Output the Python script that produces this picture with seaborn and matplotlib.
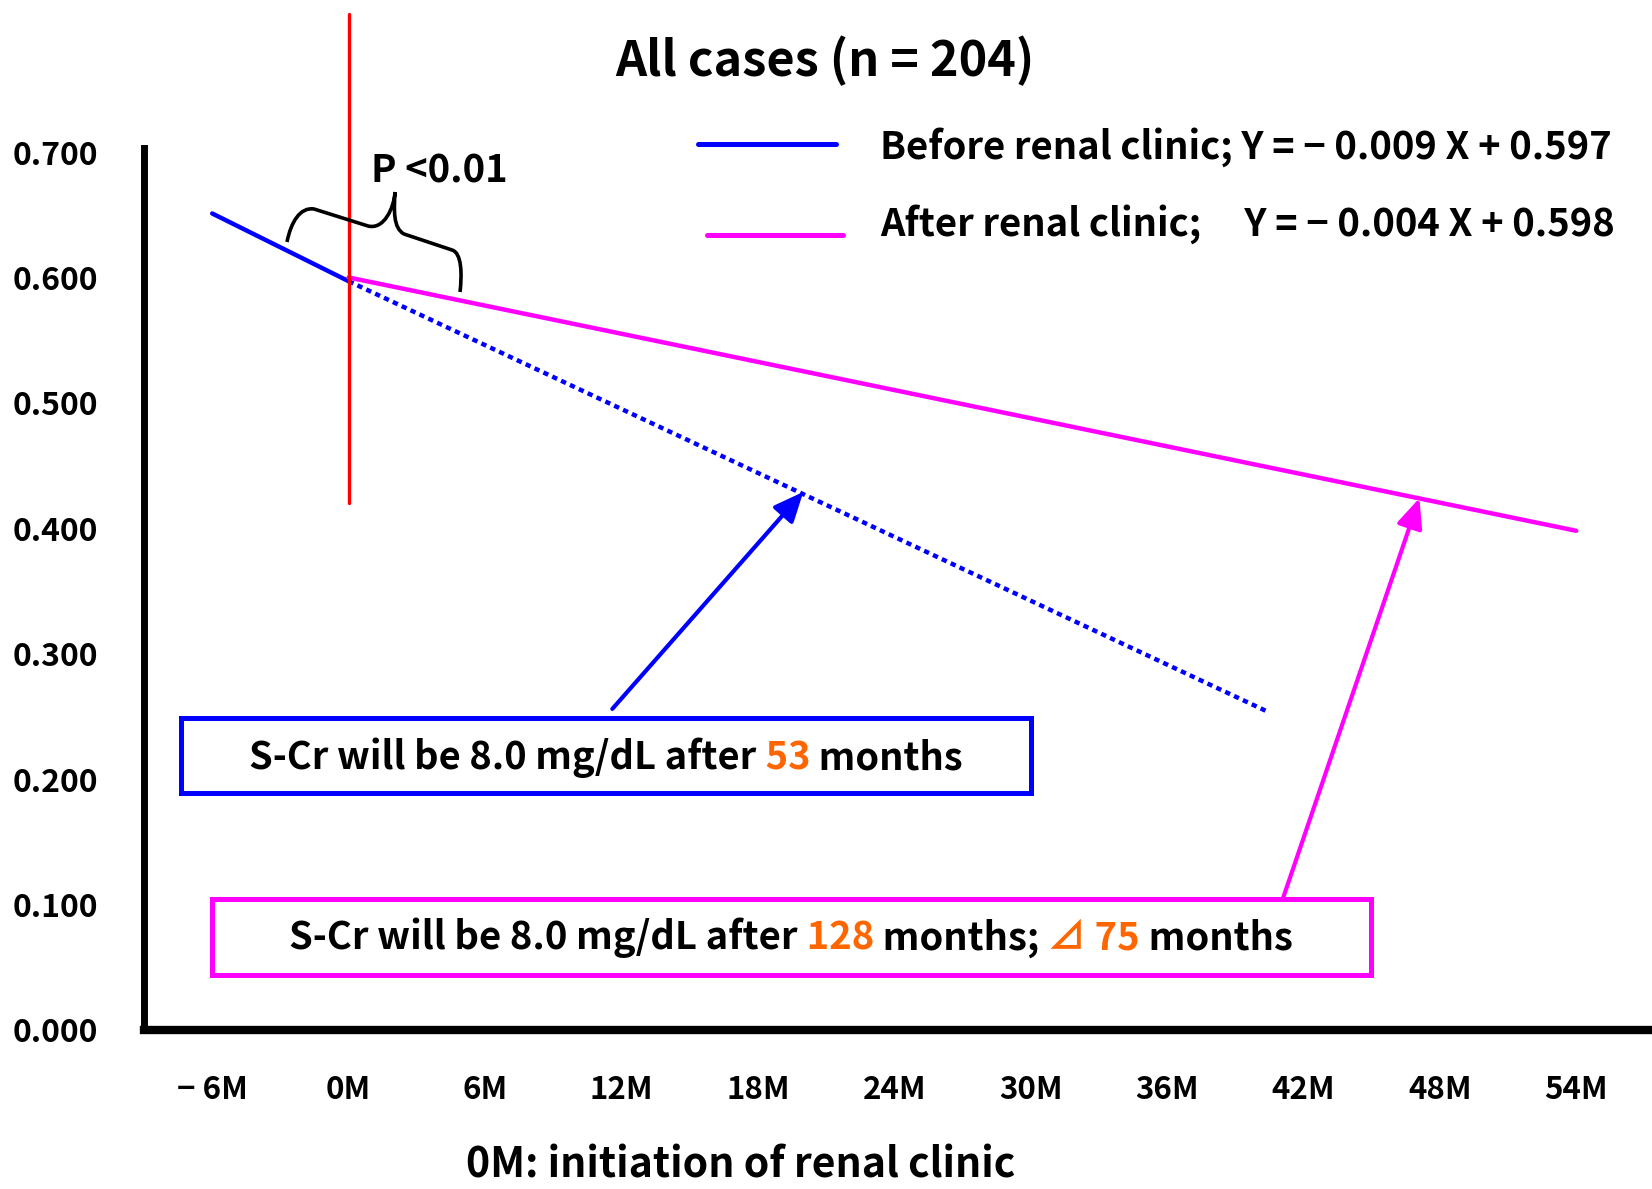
"""S-Cr slope before/after renal clinic, all cases"""

import seaborn as sns
import matplotlib.pyplot as plt
from matplotlib.lines import Line2D
from matplotlib.patches import Rectangle, PathPatch
from matplotlib.path import Path
from matplotlib.offsetbox import TextArea, HPacker, AnnotationBbox

W, H = 1652, 1189

# regression lines (months from clinic start, 1/S-Cr)
before_x = [-6, 0]
before_y = [0.651, 0.597]
projected_x = [0, 40.4]
projected_y = [0.597, 0.254]
after_x = [0, 54]
after_y = [0.600, 0.398]

# start of renal clinic marker
clinic_x = [0, 0]
clinic_y = [0.42, 0.81]

# points the arrows aim at
blue_target = (20.0, 0.429)
magenta_target = (47.1, 0.424)
blue_tail = (11.6, 0.256)
magenta_tail = (41.1, 0.105)

x_ticks = [-6, 0, 6, 12, 18, 24, 30, 36, 42, 48, 54]
x_tick_labels = ["− 6M", "0M", "6M", "12M", "18M", "24M", "30M", "36M", "42M", "48M", "54M"]
y_ticks = [0.0, 0.1, 0.2, 0.3, 0.4, 0.5, 0.6, 0.7]
y_tick_labels = ["0.000", "0.100", "0.200", "0.300", "0.400", "0.500", "0.600", "0.700"]

legend_labels = [
    "Before renal clinic; Y = − 0.009 X + 0.597",
    "After renal clinic;     Y = − 0.004 X + 0.598",
]
blue_note = ["S-Cr will be 8.0 mg/dL after", " 53", " months"]
blue_colors = ["black", "orange", "black"]
magenta_note = ["S-Cr will be 8.0 mg/dL after", " 128", " months;", " ⊿", " 75", " months"]
magenta_colors = ["black", "orange", "black", "orange", "orange", "black"]

BLUE = "#0000FF"
MAGENTA = "#FF00FF"
RED = "#FF0000"
ORANGE = "#FF6600"

sns.set_theme(style="white")
plt.rcParams["font.family"] = ["Noto Sans CJK JP", "DejaVu Sans"]
plt.rcParams["font.weight"] = "bold"
# seaborn greys the text, the original is pure black
for key in ["text.color", "axes.labelcolor", "xtick.color", "ytick.color"]:
    plt.rcParams[key] = "black"


def fxy(px, py):
    """figure pixels (from top left) to figure fraction"""
    return px / W, 1 - py / H


fig = plt.figure(figsize=(W / 100, H / 100), dpi=100)
ax = fig.add_axes([144 / W, 1 - 1030 / H, (1649 - 144) / W, (1030 - 148) / H])

sns.lineplot(x=before_x, y=before_y, color=BLUE, lw=3.2, ax=ax)
sns.lineplot(x=projected_x, y=projected_y, color=BLUE, lw=3.2, ax=ax, linestyle=(0, (1.2, 1.0)))
sns.lineplot(x=after_x, y=after_y, color=MAGENTA, lw=3.2, ax=ax)
ax.plot(clinic_x, clinic_y, color=RED, lw=2.4, clip_on=False)

ax.set_xlim(-9, 57.2)
ax.set_ylim(0, 0.7032)
ax.set_xticks(x_ticks, x_tick_labels)
ax.set_yticks(y_ticks, y_tick_labels)
ax.tick_params(axis="y", direction="in", length=5, width=5, pad=33, labelsize=23)
ax.tick_params(axis="x", length=0, pad=32, labelsize=22.5)
for side in ["top", "right"]:
    ax.spines[side].set_visible(False)
ax.spines["left"].set_linewidth(5)
ax.spines["bottom"].set_linewidth(6)
for side in ["left", "bottom"]:
    ax.spines[side].set_color("black")

ax.set_xlabel("0M: initiation of renal clinic", fontsize=29.5, fontweight="bold")
ax.xaxis.set_label_coords((741 - 144) / 1505, (1030 - 1165) / 882)
ax.xaxis.label.set_va("center")

fig.text(*fxy(825, 61), "All cases (n = 204)", ha="center", va="center", fontsize=35)
fig.text(*fxy(439, 171), "P <0.01", ha="center", va="center", fontsize=27.5)

# legend drawn by hand
fig.add_artist(Line2D([698 / W, 836 / W], [1 - 144 / H] * 2, color=BLUE, lw=3.6))
fig.add_artist(Line2D([707 / W, 843 / W], [1 - 235 / H] * 2, color=MAGENTA, lw=3.6))
fig.text(*fxy(880, 147), legend_labels[0], ha="left", va="center", fontsize=27.5)
fig.text(*fxy(880, 224), legend_labels[1], ha="left", va="center", fontsize=27.5)

# curly brace over the slope change
verts = [fxy(*p) for p in [
    (287, 242), (291, 222), (300, 207), (314, 209),
    (368, 226),
    (384, 230), (394, 208), (395, 192),
    (394, 210), (393, 228), (404, 234),
    (452, 250),
    (462, 253), (462, 275), (460, 292),
]]
codes = [Path.MOVETO, Path.CURVE4, Path.CURVE4, Path.CURVE4, Path.LINETO,
         Path.CURVE4, Path.CURVE4, Path.CURVE4,
         Path.CURVE4, Path.CURVE4, Path.CURVE4,
         Path.LINETO, Path.CURVE4, Path.CURVE4, Path.CURVE4]
fig.add_artist(PathPatch(Path(verts, codes), fill=False, lw=2.6, ec="black",
                         transform=fig.transFigure))

# arrows from the note boxes to the lines
for tail, head, col in [(blue_tail, blue_target, BLUE), (magenta_tail, magenta_target, MAGENTA)]:
    ax.annotate("", xy=head, xytext=tail, annotation_clip=False,
                arrowprops=dict(arrowstyle="-|>,head_length=0.5,head_width=0.22",
                                mutation_scale=36, color=col, lw=3, shrinkA=0, shrinkB=0))

# note boxes
fig.add_artist(Rectangle(fxy(181, 793), (1031 - 181) / W, (793 - 718) / H, fill=False,
                         ec=BLUE, lw=3.6, transform=fig.transFigure))
fig.add_artist(Rectangle(fxy(212, 975), (1371 - 212) / W, (975 - 899) / H, fill=False,
                         ec=MAGENTA, lw=3.6, transform=fig.transFigure))


def colored_line(parts, colors, center, size):
    areas = [TextArea(p, textprops=dict(color=ORANGE if c == "orange" else c, fontsize=size))
             for p, c in zip(parts, colors)]
    pack = HPacker(children=areas, sep=0, pad=0, align="baseline")
    fig.add_artist(AnnotationBbox(pack, fxy(*center), xycoords="figure fraction",
                                  frameon=False, box_alignment=(0.5, 0.5)))


colored_line(blue_note, blue_colors, (606, 758), 27.4)
colored_line(magenta_note, magenta_colors, (791, 938), 27.5)

plt.savefig("out.png", dpi=100)
